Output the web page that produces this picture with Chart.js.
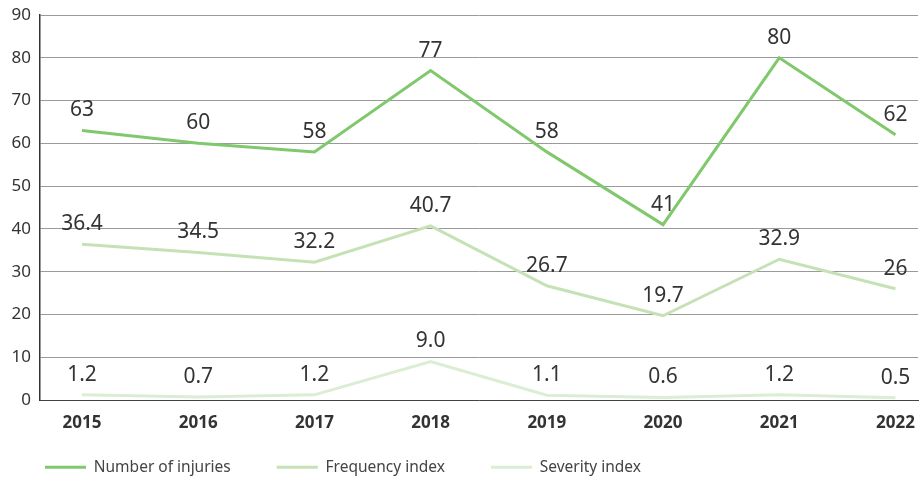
<!DOCTYPE html>
<html>
<head>
<meta charset="utf-8">
<script src="https://cdn.jsdelivr.net/npm/chart.js@4"></script>
<style>
  html, body { margin: 0; padding: 0; background: #fff; }
</style>
</head>
<body>
<canvas id="myChart" width="920" height="480"></canvas>
<script>
/* Data */
const years = ['2015', '2016', '2017', '2018', '2019', '2020', '2021', '2022'];
const injuries = [63, 60, 58, 77, 58, 41, 80, 62];
const frequency = [36.4, 34.5, 32.2, 40.7, 26.7, 19.7, 32.9, 26];
const severity = [1.2, 0.7, 1.2, 9.0, 1.1, 0.6, 1.2, 0.5];

const FONT = '"Noto Sans", "Open Sans", sans-serif';

function toPoints(values) {
  return values.map(function (v, i) { return { x: i, y: v }; });
}

/* Value labels above each point */
const valueLabels = {
  id: 'valueLabels',
  afterDatasetsDraw: function (chart) {
    const ctx = chart.ctx;
    ctx.save();
    ctx.font = '21px ' + FONT;
    ctx.fillStyle = '#333333';
    ctx.textAlign = 'center';
    ctx.textBaseline = 'middle';
    chart.data.datasets.forEach(function (ds, di) {
      const meta = chart.getDatasetMeta(di);
      meta.data.forEach(function (pt, i) {
        const v = ds.data[i].y;
        const text = ds.decimals ? v.toFixed(ds.decimals) : String(v);
        ctx.fillText(text, pt.x, pt.y - 20);
      });
    });
    ctx.restore();
  }
};

/* Move the legend row to where the original has it */
const legendPlace = {
  id: 'legendPlace',
  afterLayout: function (chart) {
    const lg = chart.legend;
    const pad = lg.options.labels.padding;
    lg.left = 45 - pad;
    lg.top = 459.5 - pad;
  }
};

const ctx = document.getElementById('myChart').getContext('2d');

// eslint-disable-next-line no-undef
const chart = new Chart(ctx, {
  type: 'line',
  data: {
    datasets: [{
      label: 'Number of injuries',
      data: toPoints(injuries),
      borderColor: '#80c86c',
      backgroundColor: '#80c86c',
      borderWidth: 3,
      pointRadius: 0,
      decimals: 0,
    },
    {
      label: 'Frequency index',
      data: toPoints(frequency),
      borderColor: '#c4e2b5',
      backgroundColor: '#c4e2b5',
      borderWidth: 3,
      pointRadius: 0,
      decimals: 0,
    },
    {
      label: 'Severity index',
      data: toPoints(severity),
      borderColor: '#dbedd2',
      backgroundColor: '#dbedd2',
      borderWidth: 3,
      pointRadius: 0,
      decimals: 1,
    }]
  },
  options: {
    responsive: false,
    animation: false,
    layout: { padding: { top: 15, right: 2, left: 0, bottom: 0 } },
    plugins: {
      tooltip: { enabled: false },
      legend: {
        position: 'bottom',
        align: 'start',
        maxHeight: 44,
        labels: {
          usePointStyle: true,
          pointStyle: 'line',
          pointStyleWidth: 41,
          padding: 46,
          color: '#444444',
          font: { family: FONT, size: 15.5 },
        }
      }
    },
    scales: {
      x: {
        type: 'linear',
        min: -0.3614,
        max: 7.194,
        afterFit: function (s) {
          s.height = 36;
          s.paddingLeft = 0;
          s.paddingRight = 0;
        },
        grid: { display: false, drawTicks: false },
        border: { display: true, color: '#444444', width: 1 },
        ticks: {
          stepSize: 1,
          includeBounds: false,
          padding: 13,
          color: '#333333',
          font: { family: FONT, size: 17, weight: 'bold' },
          callback: function (v) { return years[v] || ''; }
        }
      },
      y: {
        min: 0,
        max: 90,
        afterFit: function (s) {
          s.width = 40;
          s.paddingTop = 0;
          s.paddingBottom = 0;
        },
        grid: { color: '#9a9a9a', drawTicks: false },
        border: { display: true, color: '#333333', width: 1.5 },
        ticks: {
          stepSize: 10,
          padding: 9,
          color: '#333333',
          font: { family: FONT, size: 17 },
        }
      }
    }
  },
  plugins: [valueLabels, legendPlace]
});
</script>
</body>
</html>
